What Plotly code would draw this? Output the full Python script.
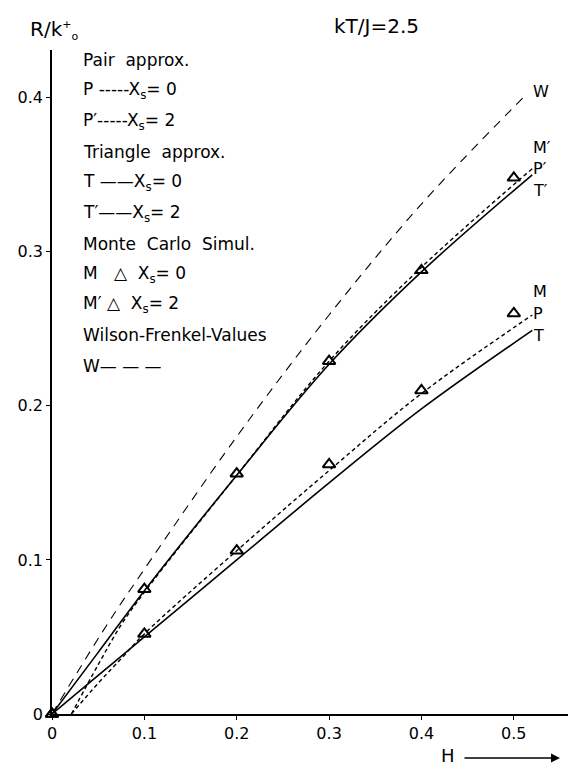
import plotly.graph_objects as go

# ---- data ----
H_MC = [0.0, 0.1, 0.2, 0.3, 0.4, 0.5]
M_xs0 = [0.0, 0.052, 0.106, 0.162, 0.210, 0.260]
M_xs2 = [0.0, 0.081, 0.156, 0.229, 0.288, 0.348]

H_T = [0.0, 0.05, 0.1, 0.2, 0.3, 0.4, 0.52]
T_xs0 = [0.0, 0.025, 0.050, 0.100, 0.150, 0.198, 0.249]
T_xs2 = [0.0, 0.040, 0.080, 0.155, 0.227, 0.287, 0.350]

H_P = [0.021, 0.05, 0.075, 0.1, 0.2, 0.3, 0.4, 0.52]
P_xs0 = [0.0, 0.020, 0.036, 0.052, 0.106, 0.158, 0.208, 0.259]
P_xs2 = [0.0, 0.032, 0.058, 0.079, 0.155, 0.229, 0.290, 0.354]

H_W = [0.0, 0.0585, 0.1, 0.2, 0.3, 0.4, 0.51]
W_vals = [0.0, 0.057, 0.094, 0.180, 0.259, 0.331, 0.400]

x_ticks = [0, 0.1, 0.2, 0.3, 0.4, 0.5]
x_ticktext = ["0", "0.1", "0.2", "0.3", "0.4", "0.5"]
y_ticks = [0, 0.1, 0.2, 0.3, 0.4]
y_ticktext = ["0", "0.1", "0.2", "0.3", "0.4"]

end_labels = [("W", 0.404), ("M′", 0.368), ("P′", 0.354), ("T′", 0.340),
              ("M", 0.274), ("P", 0.260), ("T", 0.246)]

legend_lines = [
    "Pair  approx.",
    "P -----X<sub>s</sub>= 0",
    "P′-----X<sub>s</sub>= 2",
    "Triangle  approx.",
    "T ——X<sub>s</sub>= 0",
    "T′——X<sub>s</sub>= 2",
    "Monte  Carlo  Simul.",
    "M   △  X<sub>s</sub>= 0",
    "M′ △  X<sub>s</sub>= 2",
    "Wilson-Frenkel-Values",
    "W— — —",
]

FONT = "DejaVu Sans"
W, HGT = 576, 767
L, R, T, B = 44, 0, 42, 61
XMAX = 0.576
YMAX = 0.431


def paper(xp, yp):
    return (xp - L) / (W - L - R), (HGT - B - yp) / (HGT - T - B)


fig = go.Figure()
line_w = 1.6
fig.add_trace(go.Scatter(x=H_W, y=W_vals, mode="lines", line_shape="spline",
                         line=dict(color="black", width=1.1, dash="9px,7px")))
fig.add_trace(go.Scatter(x=H_T, y=T_xs2, mode="lines", line_shape="spline",
                         line=dict(color="black", width=line_w)))
fig.add_trace(go.Scatter(x=H_T, y=T_xs0, mode="lines", line_shape="spline",
                         line=dict(color="black", width=line_w)))
fig.add_trace(go.Scatter(x=H_P, y=P_xs2, mode="lines", line_shape="spline",
                         line=dict(color="black", width=1.4, dash="4px,3px")))
fig.add_trace(go.Scatter(x=H_P, y=P_xs0, mode="lines", line_shape="spline",
                         line=dict(color="black", width=1.4, dash="4px,3px")))
fig.add_trace(go.Scatter(x=H_MC, y=M_xs2, mode="markers", cliponaxis=False,
                         marker=dict(symbol="triangle-up-open", size=11, color="black",
                                     line=dict(width=2, color="black"))))
fig.add_trace(go.Scatter(x=H_MC, y=M_xs0, mode="markers", cliponaxis=False,
                         marker=dict(symbol="triangle-up-open", size=11, color="black",
                                     line=dict(width=2, color="black"))))

ann = []
for txt, yv in end_labels:
    ann.append(dict(x=0.519, y=yv, xref="x", yref="y", text=txt, showarrow=False,
                    xanchor="left", yanchor="middle", font=dict(family=FONT, size=16, color="black")))

y0 = 52
for i, txt in enumerate(legend_lines):
    px, py = paper(73, y0 + i * 30.6)
    ann.append(dict(x=px, y=py, xref="paper", yref="paper", text=txt, showarrow=False,
                    xanchor="left", yanchor="middle", font=dict(family=FONT, size=17, color="black")))

tx, ty = paper(368, 18)
ann.append(dict(x=tx, y=ty, xref="paper", yref="paper", text="kT/J=2.5", showarrow=False,
                xanchor="center", yanchor="middle", font=dict(family=FONT, size=20, color="black")))
rx, ry = paper(20, 22)
ann.append(dict(x=rx, y=ry, xref="paper", yref="paper",
                text="R/k<sup><span style='font-size:11px'>+</span></sup><sub><span style='font-size:11px'>o</span></sub>",
                showarrow=False, xanchor="left", yanchor="middle",
                font=dict(family=FONT, size=20, color="black")))
hx, hy = paper(440, 748)
ann.append(dict(x=hx, y=hy, xref="paper", yref="paper", text="H", showarrow=False,
                xanchor="center", yanchor="middle", font=dict(family=FONT, size=18, color="black")))
ax1, ay1 = paper(552, 750)
ann.append(dict(x=ax1, y=ay1, xref="paper", yref="paper", ax=-97, ay=0,
                axref="pixel", ayref="pixel", text="", showarrow=True,
                arrowhead=2, arrowsize=1.2, arrowwidth=1.5, arrowcolor="black"))

fig.update_layout(
    width=W, height=HGT, margin=dict(l=L, r=R, t=T, b=B),
    paper_bgcolor="white", plot_bgcolor="white", showlegend=False,
    annotations=ann,
    font=dict(family=FONT, size=16, color="black"),
)
fig.update_xaxes(range=[0, XMAX], tickvals=x_ticks, ticktext=x_ticktext, showgrid=False,
                 zeroline=False, showline=True, linecolor="black", linewidth=1.5,
                 ticks="outside", ticklen=4, tickcolor="black",
                 tickfont=dict(family=FONT, size=16, color="black"))
fig.update_yaxes(range=[0, YMAX], tickvals=y_ticks, ticktext=y_ticktext, showgrid=False,
                 zeroline=False, showline=True, linecolor="black", linewidth=1.5,
                 ticks="outside", ticklen=4, tickcolor="black",
                 tickfont=dict(family=FONT, size=16, color="black"))

fig.write_html("out.html")
